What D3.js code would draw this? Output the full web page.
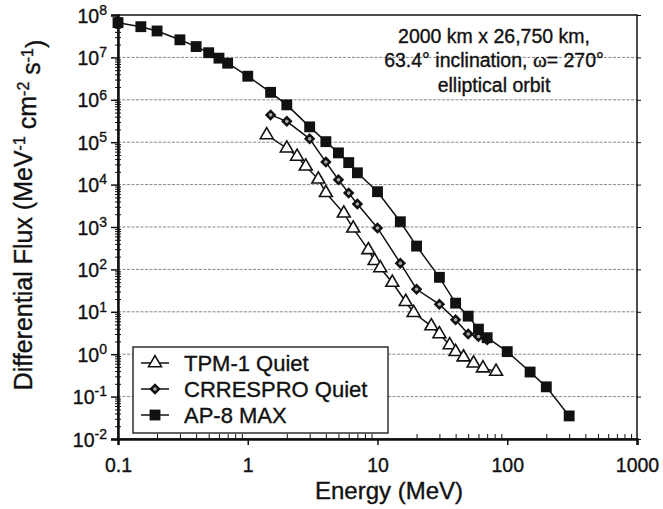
<!DOCTYPE html>
<html>
<head>
<meta charset="utf-8">
<script src="https://cdn.jsdelivr.net/npm/d3@7"></script>
<style>
    body {margin: 0; background: #fff;}
    text {font-family: "Liberation Sans", Arial, sans-serif; fill: #111; stroke: #111; stroke-width: 0.35px;}
</style>
</head>
<body>
<div id="chart"></div>
<script>
// AP-8 MAX
const energyAP8 = [0.1, 0.15, 0.2, 0.3, 0.4, 0.5, 0.6, 0.7, 1, 1.5, 2, 3, 4, 5, 6, 7, 10, 15, 20, 30, 40, 50, 60, 70, 100, 150, 200, 300];
const fluxAP8 = [6.6e7, 5.3e7, 4.2e7, 2.6e7, 1.8e7, 1.29e7, 9.6e6, 7.3e6, 3.6e6, 1.5e6, 7.6e5, 2.3e5, 1.03e5, 5.6e4, 3.3e4, 1.9e4, 6.8e3, 1.33e3, 355, 65, 16, 7.9, 3.9, 2.45, 1.15, 0.38, 0.17, 0.035];
// CRRESPRO Quiet
const energyCRRES = [1.5, 2, 3, 4, 5, 6, 7, 10, 15, 20, 30, 40, 50, 60, 70];
const fluxCRRES = [4.4e5, 3.1e5, 1.2e5, 3.4e4, 1.3e4, 6.3e3, 3.5e3, 950, 140, 34, 15, 6.5, 3.0, 2.6, 2.2];
// TPM-1 Quiet
const energyTPM = [1.4, 2, 2.4, 2.8, 3.5, 4, 5.5, 6.5, 8.5, 9.5, 10.5, 13, 16.5, 19, 26, 30, 36, 40, 46, 55, 65, 82];
const fluxTPM = [1.48e5, 7.2e4, 4.6e4, 2.7e4, 1.33e4, 6.4e3, 2.1e3, 930, 288, 160, 108, 49, 17.3, 9.5, 4.6, 3.0, 1.65, 1.14, 0.85, 0.61, 0.47, 0.39];

const xTicks = [0.1, 1, 10, 100, 1000];
const xTickLabels = ["0.1", "1", "10", "100", "1000"];
const yExponents = [-2, -1, 0, 1, 2, 3, 4, 5, 6, 7, 8];
const seriesNames = ["TPM-1 Quiet", "CRRESPRO Quiet", "AP-8 MAX"];
const noteLines = ["2000 km x 26,750 km,", "63.4\u00b0 inclination, ", "elliptical orbit"];

const width = 663, height = 509;
const margin = {top: 15, right: 26, bottom: 70, left: 118};

let svg = d3.select("#chart").append("svg")
    .attr("width", width)
    .attr("height", height);

let x = d3.scaleLog().domain([0.1, 1000]).range([margin.left, width - margin.right]);
let y = d3.scaleLog().domain([1e-2, 1e8]).range([height - margin.bottom, margin.top]);

// minor tick values (2..9 per decade)
let xMinor = [], yMinor = [];
for (let k = -1; k < 3; k++) for (let d = 2; d < 10; d++) xMinor.push(d * Math.pow(10, k));
for (let k = -2; k < 8; k++) for (let d = 2; d < 10; d++) yMinor.push(d * Math.pow(10, k));
let yMajor = yExponents.map(e => Math.pow(10, e));

// gridlines
svg.append("g")
    .selectAll("line")
    .data(yMajor.slice(1, -1))
    .join("line")
    .attr("x1", x(0.1)).attr("x2", x(1000))
    .attr("y1", d => y(d)).attr("y2", d => y(d))
    .attr("stroke", "#888")
    .attr("stroke-width", 1)
    .attr("stroke-dasharray", "3,1.5");

// frame
svg.append("rect")
    .attr("x", x(0.1)).attr("y", y(1e8))
    .attr("width", x(1000) - x(0.1)).attr("height", y(1e-2) - y(1e8))
    .attr("fill", "none").attr("stroke", "#111").attr("stroke-width", 1.5);

// right side ticks
svg.append("g")
    .attr("transform", "translate(" + x(1000) + ",0)")
    .call(d3.axisRight(y).tickValues(yMajor).tickSize(4).tickFormat(""))
    .call(g => g.select(".domain").remove());

// y minor ticks
svg.append("g")
    .attr("transform", "translate(" + (x(0.1) + 3) + ",0)")
    .call(d3.axisLeft(y).tickValues(yMinor).tickSize(6).tickFormat(""))
    .call(g => g.select(".domain").remove());

// y axis
let yAxis = svg.append("g")
    .attr("transform", "translate(" + x(0.1) + ",0)")
    .call(d3.axisLeft(y).tickValues(yMajor).tickSize(7).tickPadding(4).tickFormat(""));
yAxis.select(".domain").attr("stroke-width", 2.5);
yAxis.selectAll(".tick line").attr("stroke-width", 1.5);
yAxis.selectAll(".tick text").remove();
yAxis.selectAll(".tick").each(function (d) {
    let t = d3.select(this).append("text")
        .attr("x", -11)
        .attr("dy", "0.36em")
        .attr("text-anchor", "end")
        .style("font-size", "19.5px");
    t.append("tspan").text("10");
    t.append("tspan")
        .attr("dy", "-0.55em")
        .style("font-size", "14px")
        .text(String(Math.round(Math.log10(d))));
});

// x minor ticks
svg.append("g")
    .attr("transform", "translate(0," + y(1e-2) + ")")
    .call(d3.axisTop(x).tickValues(xMinor).tickSize(5).tickFormat(""))
    .call(g => g.select(".domain").remove());

// x axis
let xAxis = svg.append("g")
    .attr("transform", "translate(0," + y(1e-2) + ")")
    .call(d3.axisBottom(x).tickValues(xTicks).tickSize(6).tickPadding(13)
        .tickFormat((d, i) => xTickLabels[i]));
xAxis.select(".domain").attr("stroke-width", 2.5);
xAxis.selectAll(".tick line").attr("stroke-width", 1.5);
xAxis.selectAll(".tick text").style("font-size", "19.5px").style("fill", "#111");

svg.selectAll(".domain, .tick line").attr("stroke", "#111");

// series lines
let line = d3.line()
    .x(d => x(d[0]))
    .y(d => y(d[1]));

let series = [
    {name: seriesNames[0], pts: d3.zip(energyTPM, fluxTPM), kind: "triangle"},
    {name: seriesNames[1], pts: d3.zip(energyCRRES, fluxCRRES), kind: "diamond"},
    {name: seriesNames[2], pts: d3.zip(energyAP8, fluxAP8), kind: "square"}
];

function drawMarker(g, kind, cx, cy) {
    if (kind === "square") {
        g.append("path")
            .attr("d", d3.symbol(d3.symbolSquare, 118)())
            .attr("transform", "translate(" + cx + "," + cy + ")")
            .attr("fill", "#111");
    } else if (kind === "diamond") {
        g.append("path")
            .attr("d", d3.symbol(d3.symbolSquare, 66)())
            .attr("transform", "translate(" + cx + "," + cy + ") rotate(45)")
            .attr("fill", "#111");
        g.append("circle")
            .attr("cx", cx).attr("cy", cy).attr("r", 1.8)
            .attr("fill", "#aaa");
    } else {
        g.append("path")
            .attr("d", d3.symbol(d3.symbolTriangle, 72)())
            .attr("transform", "translate(" + cx + "," + cy + ")")
            .attr("fill", "#fff")
            .attr("stroke", "#111")
            .attr("stroke-width", 1.6);
    }
}

series.forEach(function (s) {
    svg.append("path")
        .datum(s.pts)
        .attr("fill", "none")
        .attr("stroke", "#111")
        .attr("stroke-width", 1.5)
        .attr("d", line);
});
series.forEach(function (s) {
    let g = svg.append("g");
    s.pts.forEach(p => drawMarker(g, s.kind, x(p[0]), y(p[1])));
});

// legend
let legend = svg.append("g");
legend.append("rect")
    .attr("x", 133).attr("y", 347)
    .attr("width", 255).attr("height", 86)
    .attr("fill", "#fff").attr("stroke", "#111").attr("stroke-width", 1.3);
series.forEach(function (s, i) {
    let ly = 363 + i * 26;
    legend.append("line")
        .attr("x1", 141).attr("x2", 169)
        .attr("y1", ly).attr("y2", ly)
        .attr("stroke", "#111").attr("stroke-width", 1.5);
    drawMarker(legend, s.kind, 155, ly);
    legend.append("text")
        .attr("x", 184).attr("y", ly + 8)
        .style("font-size", "22px")
        .text(s.name);
});

// note
let note = svg.append("text")
    .attr("text-anchor", "middle")
    .style("font-size", "19.5px");
note.append("tspan").attr("x", 494).attr("y", 43).text(noteLines[0]);
let l2 = note.append("tspan").attr("x", 494).attr("y", 67);
l2.append("tspan").text(noteLines[1]);
l2.append("tspan").style("font-family", "'Liberation Serif', serif").style("font-size", "21px").text("\u03c9");
l2.append("tspan").text("= 270\u00b0");
note.append("tspan").attr("x", 494).attr("y", 92).text(noteLines[2]);

// axis titles
svg.append("text")
    .attr("x", 389).attr("y", 499)
    .attr("text-anchor", "middle")
    .style("font-size", "24px")
    .text("Energy (MeV)");

let yt = svg.append("text")
    .attr("transform", "translate(32,215) rotate(-90)")
    .attr("text-anchor", "middle")
    .style("font-size", "25px");
[["Differential Flux (MeV", "-1"], [" cm", "-2"], [" s", "-1"], [")", null]].forEach(function (p, i) {
    yt.append("tspan").attr("dy", i > 0 ? "0.45em" : null).text(p[0]);
    if (p[1]) yt.append("tspan").attr("dy", "-0.45em").style("font-size", "16px").text(p[1]);
});
</script>
</body>
</html>
